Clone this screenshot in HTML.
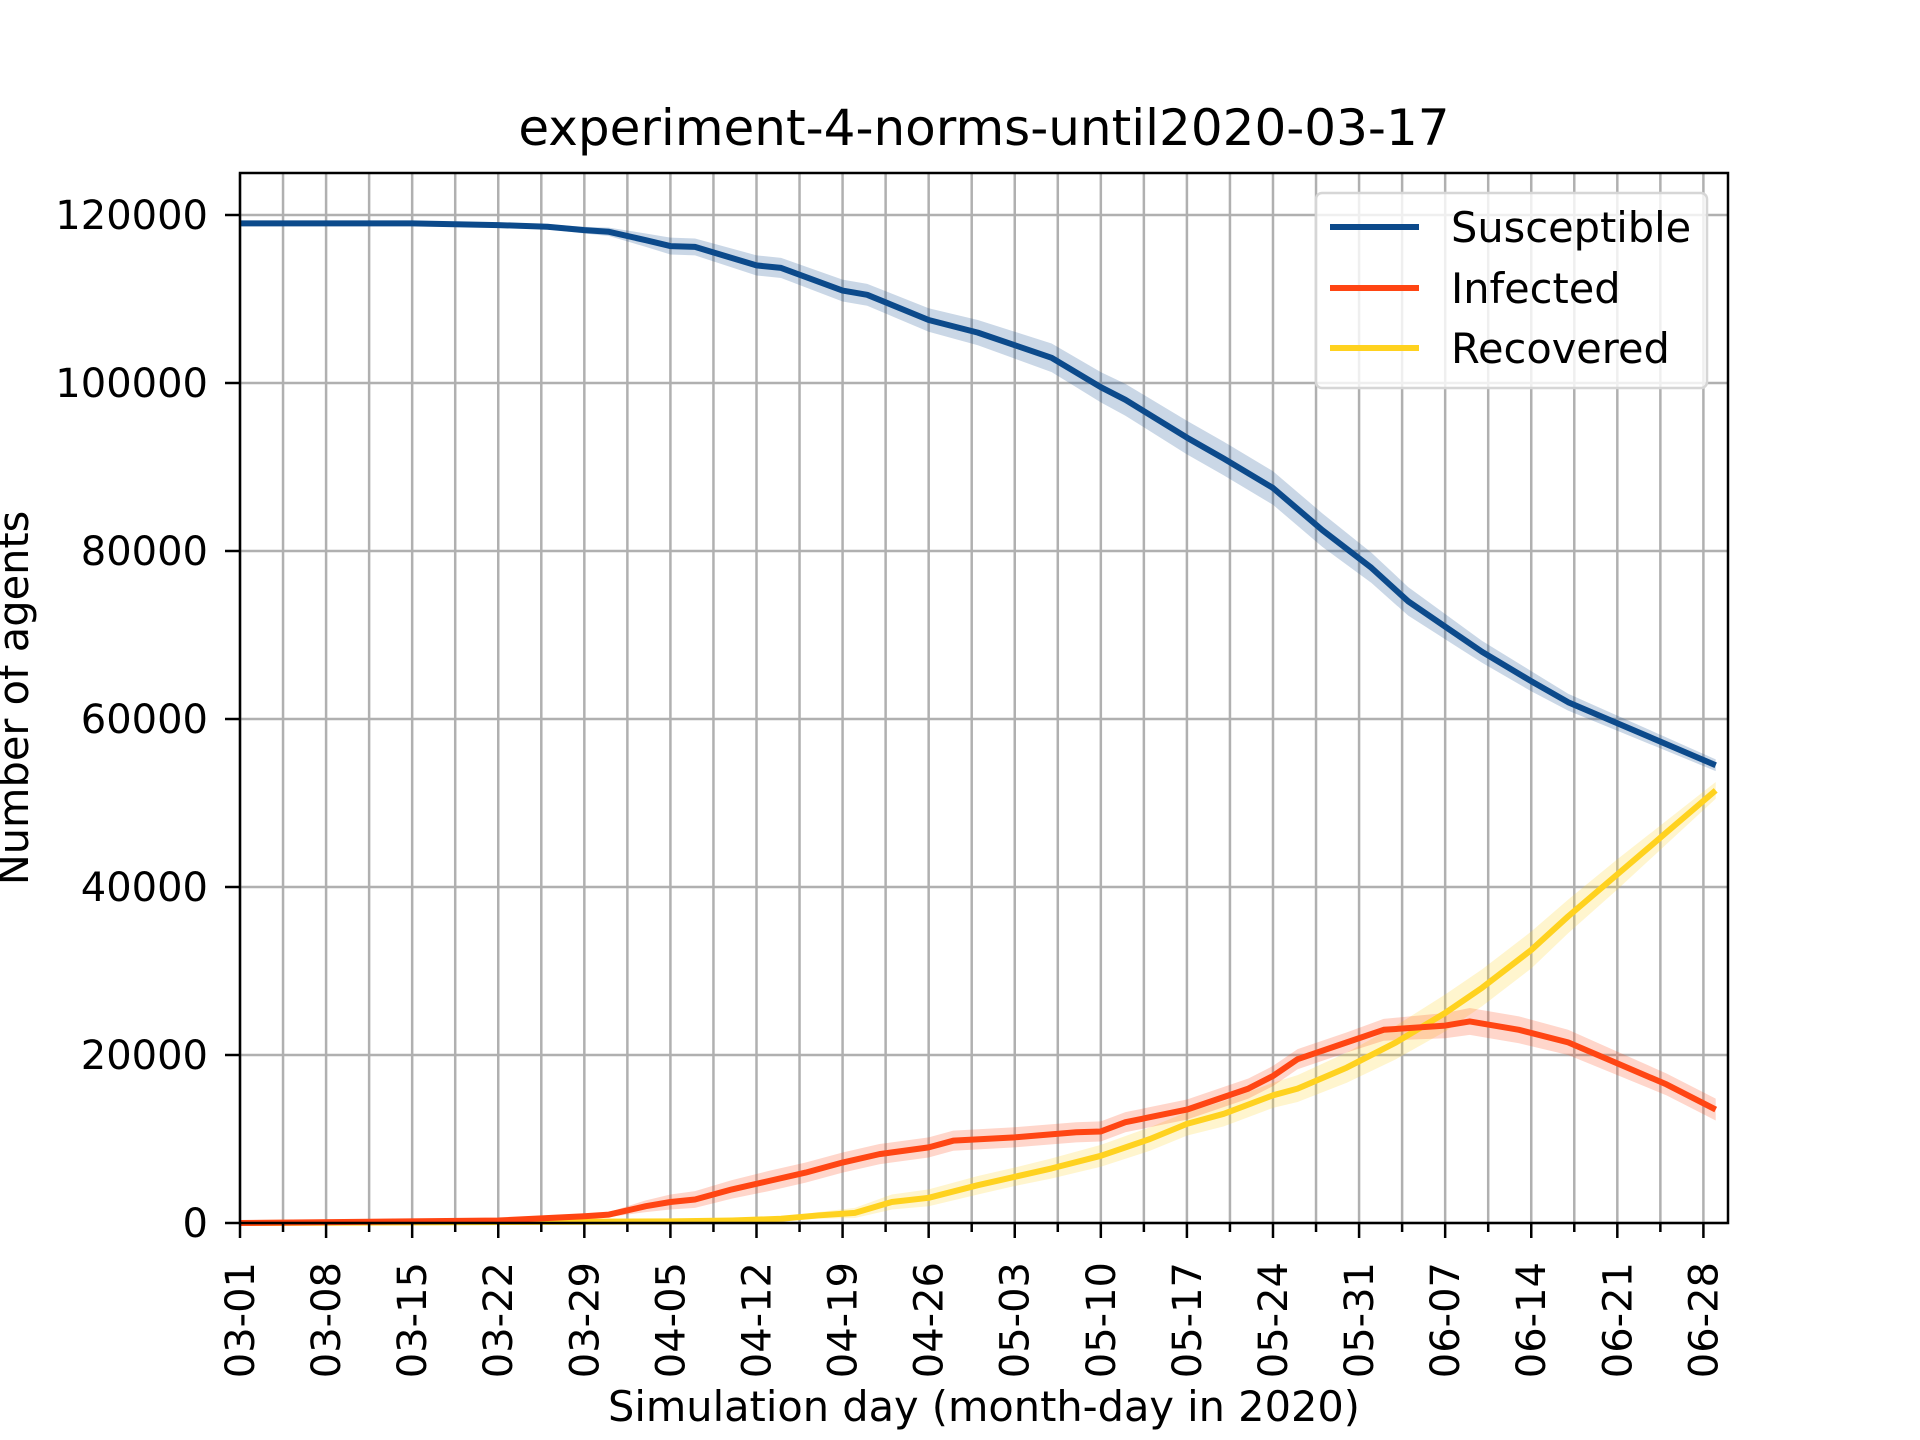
<!DOCTYPE html>
<html><head><meta charset="utf-8"><style>
html,body{margin:0;padding:0;background:#fff;}
svg{display:block;font-family:"DejaVu Sans","Liberation Sans",sans-serif;}
</style></head><body>
<svg id="chart" width="1920" height="1440" viewBox="0 0 1920 1440" xmlns="http://www.w3.org/2000/svg">
<rect width="1920" height="1440" fill="#fff"/>
<text x="984" y="145" font-size="50" text-anchor="middle">experiment-4-norms-until2020-03-17</text>
<g id="grid"></g>
<g id="bands"></g>
<g id="lines"></g>
<g id="ticks"></g>
<rect x="240" y="173" width="1488" height="1050" fill="none" stroke="#000" stroke-width="2.5"/>
<text transform="translate(28,698) rotate(-90)" font-size="41.5" text-anchor="middle">Number of agents</text>
<text x="984" y="1421" font-size="41.5" text-anchor="middle">Simulation day (month-day in 2020)</text>
<g>
<rect x="1316" y="193" width="391" height="195" rx="6" fill="#fff" fill-opacity="0.8" stroke="#d6d6d6" stroke-width="2.5"/>
<line x1="1330" x2="1419" y1="227" y2="227" stroke="#0c4a8b" stroke-width="6"/>
<text x="1451" y="242" font-size="41.5">Susceptible</text>
<line x1="1330" x2="1419" y1="288" y2="288" stroke="#ff4513" stroke-width="6"/>
<text x="1451" y="303" font-size="41.5">Infected</text>
<line x1="1330" x2="1419" y1="348" y2="348" stroke="#ffd21f" stroke-width="6"/>
<text x="1451" y="363" font-size="41.5">Recovered</text>
</g>
</svg>
<script>
const xTickLabels = ["03-01","03-08","03-15","03-22","03-29","04-05","04-12","04-19","04-26","05-03","05-10","05-17","05-24","05-31","06-07","06-14","06-21","06-28"];
const yTicks = [0,20000,40000,60000,80000,100000,120000];
const sDays = [0,14,21,25,28,30,33,35,37,42,44,49,51,56,60,63,66,70,72,77,80,84,88,92,95,98,101,105,108,112,116,120];
const sVals = [119000,119000,118800,118600,118200,118000,117000,116300,116200,114000,113700,111000,110500,107500,106000,104500,103000,99500,98000,93500,91000,87500,82500,78000,74000,71000,68000,64500,62000,59500,57000,54500];
const sBand = [100,100,200,300,400,500,800,1000,1000,1200,1200,1300,1300,1400,1500,1600,1700,1800,1900,2000,2000,2000,2000,1800,1700,1500,1300,1200,1000,900,800,700];
const iDays = [0,21,28,30,33,35,37,40,43,46,49,52,56,58,63,68,70,72,77,82,84,86,90,93,98,100,104,108,112,116,120];
const iVals = [0,300,800,1000,2000,2500,2800,4000,5000,6000,7200,8200,9000,9800,10200,10800,10900,12000,13500,16000,17500,19500,21500,23000,23500,24000,23000,21500,19000,16500,13500];
const iBand = [0,100,200,300,700,900,1000,1100,1200,1200,1200,1200,1200,1200,1200,1200,1200,1200,1200,1200,1200,1200,1200,1300,1500,1600,1600,1500,1400,1300,1300];
const rDays = [0,35,40,44,47,50,53,56,60,63,66,70,74,77,80,84,86,90,94,98,101,105,108,112,116,120];
const rVals = [0,200,300,500,900,1200,2500,3000,4500,5500,6500,8000,10000,11800,13000,15200,16000,18500,21500,25000,28000,32500,36500,41500,46500,51500];
const rBand = [0,50,100,200,400,600,900,1000,1100,1100,1200,1300,1400,1400,1500,1500,1600,1800,2000,2200,2200,2200,2000,1800,1400,1000];

const NS='http://www.w3.org/2000/svg';
const X0=240,X1=1728,Y0=1223,Y1=173;
const xScale=d=>X0+d*(X1-X0)/121;
const yScale=v=>Y0-v*168/20000;
function mk(tag,attrs,parent){const e=document.createElementNS(NS,tag);for(const k in attrs)e.setAttribute(k,attrs[k]);parent.appendChild(e);return e;}
const grid=document.getElementById('grid'),ticks=document.getElementById('ticks'),bands=document.getElementById('bands'),lines=document.getElementById('lines');
for(let k=0;k<=34;k++){const d=k*3.5;if(d>121)break;const x=xScale(d);
 const g=mk('line',{x1:x,x2:x,y1:Y1,y2:Y0,stroke:'#b0b0b0','stroke-width':2.5},grid);
 
 
 const t=mk('line',{x1:x,x2:x,y1:Y0,y2:Y0+(k%2?9:15),stroke:'#000','stroke-width':2.5},ticks);
 
 
}
xTickLabels.forEach((lab,i)=>{const x=xScale(i*7);
 const t=mk('text',{transform:`translate(${x+14},1262) rotate(-90)`,'font-size':40,'text-anchor':'end'},ticks);
 t.textContent=lab;
 
 
});
yTicks.forEach(v=>{const y=yScale(v);
 const g=mk('line',{x1:X0,x2:X1,y1:y,y2:y,stroke:'#b0b0b0','stroke-width':2.5},grid);
 
 
 const t=mk('line',{x1:X0-15,x2:X0,y1:y,y2:y,stroke:'#000','stroke-width':2.5},ticks);
 
 
 const l=mk('text',{x:208,y:y+14,'font-size':40,'text-anchor':'end'},ticks);
 l.textContent=String(v);
 
 
});
function series(name,days,vals,band,color){
 const up=days.map((d,i)=>xScale(d)+','+yScale(vals[i]+band[i]));
 const dn=days.map((d,i)=>xScale(d)+','+yScale(Math.max(0,vals[i]-band[i]))).reverse();
 const b=mk('polygon',{points:up.concat(dn).join(' '),fill:color,'fill-opacity':0.22,stroke:'none'},bands);
 
 
 const l=mk('polyline',{points:days.map((d,i)=>xScale(d)+','+yScale(vals[i])).join(' '),fill:'none',stroke:color,'stroke-width':6,'stroke-linejoin':'round'},lines);
 
 
}
series('recovered',rDays,rVals,rBand,'#ffd21f');
series('infected',iDays,iVals,iBand,'#ff4513');
series('susceptible',sDays,sVals,sBand,'#0c4a8b');
</script>
</body></html>
